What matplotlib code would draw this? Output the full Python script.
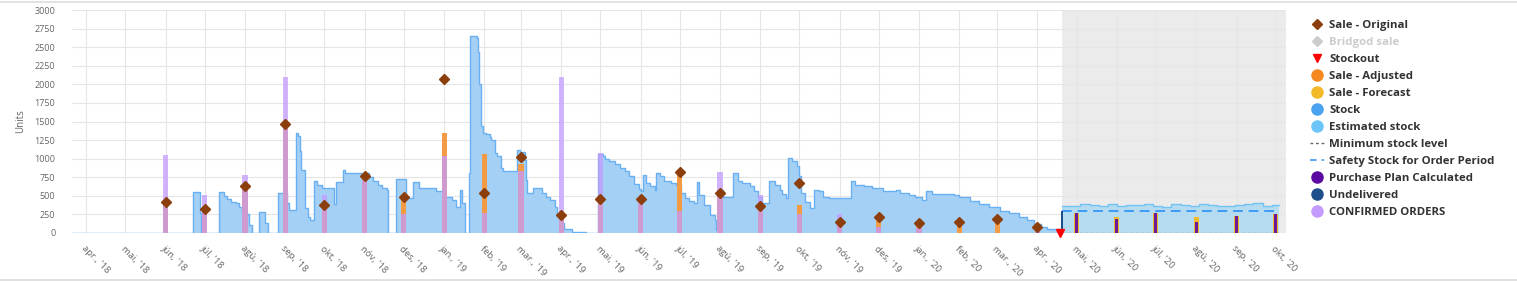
import matplotlib
matplotlib.use('Agg')
import matplotlib.pyplot as plt
import matplotlib.dates as mdates
import pandas as pd
from matplotlib.lines import Line2D

plt.rcParams['font.family'] = ['Open Sans', 'DejaVu Sans']

# ---------------- data ----------------
month_ticks = pd.date_range('2018-04-01', '2020-10-01', freq='MS')
tick_labels = ["apr., '18", "mai, '18", "jún, '18", "júl, '18", "agú, '18", "sep, '18",
               "okt, '18", "nóv, '18", "des, '18", "jan., '19", "feb, '19", "mar., '19",
               "apr., '19", "mai, '19", "jún, '19", "júl, '19", "agú, '19", "sep, '19",
               "okt, '19", "nóv, '19", "des, '19", "jan., '20", "feb, '20", "mar., '20",
               "apr., '20", "mai, '20", "jún, '20", "júl, '20", "agú, '20", "sep, '20",
               "okt, '20"]

sale_months = pd.date_range('2018-06-01', '2020-04-01', freq='MS')
sale_original = [419, 320, 626, 1470, 379, 771, 485, 2072, 532, 1019, 244, 456,
                 460, 825, 532, 363, 672, 149, 221, 128, 145, 185, 77]
sale_adjusted = [419, 320, 626, 1470, 379, 771, 485, 1350, 1065, 930, 244, 456,
                 460, 825, 532, 363, 379, 149, 221, 128, 145, 185, 77]
confirmed_orders = [1046, 514, 785, 2100, 514, 771, 257, 1042, 266, 830, 2100, 1073,
                    460, 298, 825, 514, 257, 257, 77, 64, 0, 0, 65]

forecast_months = pd.date_range('2020-05-01', '2020-10-01', freq='MS')
sale_forecast = [266, 221, 275, 212, 234, 257]
purchase_plan = [266, 185, 275, 153, 234, 257]

undelivered_dates = ['2020-04-20']
undelivered = [300]

stock_dates = ['2018-03-21', '2018-06-22', '2018-06-27', '2018-06-28', '2018-07-12', '2018-07-16',
               '2018-07-18', '2018-07-21', '2018-07-25', '2018-07-27', '2018-07-30', '2018-08-04',
               '2018-08-06', '2018-08-12', '2018-08-16', '2018-08-19', '2018-08-26', '2018-09-02',
               '2018-09-04', '2018-09-09', '2018-09-11', '2018-09-12', '2018-09-13', '2018-09-16',
               '2018-09-18', '2018-09-20', '2018-09-23', '2018-09-25', '2018-09-29', '2018-10-08',
               '2018-10-10', '2018-10-15', '2018-10-17', '2018-11-04', '2018-11-07', '2018-11-11',
               '2018-11-14', '2018-11-18', '2018-11-19', '2018-11-25', '2018-12-03', '2018-12-08',
               '2018-12-13', '2018-12-26', '2019-01-01', '2019-01-07', '2019-01-10', '2019-01-13',
               '2019-01-15', '2019-01-17', '2019-01-20', '2019-01-21', '2019-01-26', '2019-01-27',
               '2019-01-28', '2019-01-29', '2019-01-31', '2019-02-02', '2019-02-05', '2019-02-06',
               '2019-02-09', '2019-02-11', '2019-02-14', '2019-02-15', '2019-02-26', '2019-02-28',
               '2019-03-04', '2019-03-05', '2019-03-06', '2019-03-10', '2019-03-17', '2019-03-20',
               '2019-03-23', '2019-03-27', '2019-03-29', '2019-04-01', '2019-04-03', '2019-04-09',
               '2019-04-20', '2019-04-29', '2019-05-03', '2019-05-05', '2019-05-08', '2019-05-12',
               '2019-05-16', '2019-05-20', '2019-05-23', '2019-05-27', '2019-05-31', '2019-06-01',
               '2019-06-03', '2019-06-05', '2019-06-08', '2019-06-12', '2019-06-13', '2019-06-16',
               '2019-06-19', '2019-06-24', '2019-06-28', '2019-07-02', '2019-07-05', '2019-07-08',
               '2019-07-12', '2019-07-14', '2019-07-16', '2019-07-20', '2019-07-24', '2019-07-28',
               '2019-07-29', '2019-08-01', '2019-08-03', '2019-08-11', '2019-08-15', '2019-08-18',
               '2019-08-24', '2019-08-27', '2019-08-30', '2019-09-02', '2019-09-08', '2019-09-12',
               '2019-09-16', '2019-09-18', '2019-09-21', '2019-09-22', '2019-09-25', '2019-09-29',
               '2019-10-01', '2019-10-02', '2019-10-05', '2019-10-09', '2019-10-12', '2019-10-16',
               '2019-10-19', '2019-10-24', '2019-11-10', '2019-11-13', '2019-11-20', '2019-11-26',
               '2019-12-04', '2019-12-14', '2019-12-17', '2019-12-24', '2019-12-29', '2020-01-03',
               '2020-01-06', '2020-01-11', '2020-01-28', '2020-02-01', '2020-02-09', '2020-02-16',
               '2020-02-24', '2020-03-03', '2020-03-10', '2020-03-18', '2020-03-24', '2020-03-29',
               '2020-04-04', '2020-04-08', '2020-04-18', '2020-04-20']
stock_values = [0, 545, 266, 0, 545, 500,
                460, 420, 400, 345, 257, 110,
                0, 280, 140, 0, 540, 400,
                305, 1350, 1300, 1100, 850, 340,
                220, 180, 700, 640, 610, 390,
                680, 843, 807, 753, 694, 649,
                605, 582, 0, 726, 470, 680,
                605, 560, 491, 446, 356, 582,
                401, 0, 807, 2656, 2620, 2430,
                2000, 1440, 1349, 1326, 1295, 1249,
                1078, 1033, 875, 839, 1123, 1087,
                988, 717, 537, 605, 537, 491,
                446, 356, 244, 131, 50, 18,
                0, 1069, 1042, 997, 965, 934,
                875, 830, 762, 663, 591, 559,
                785, 672, 627, 582, 807, 762,
                694, 672, 649, 537, 469, 437,
                410, 680, 514, 379, 244, 176,
                41, 582, 491, 807, 694, 672,
                627, 559, 491, 401, 694, 649,
                582, 528, 469, 1010, 965, 897,
                762, 537, 423, 334, 582, 559,
                491, 469, 694, 649, 627, 605,
                559, 582, 537, 514, 491, 446,
                559, 528, 510, 483, 437, 392,
                347, 302, 266, 212, 176, 122,
                77, 50, 0, 0]

est_dates = ['2020-04-20', '2020-04-27', '2020-05-04', '2020-05-11', '2020-05-18', '2020-05-25',
             '2020-06-01', '2020-06-08', '2020-06-15', '2020-06-22', '2020-06-29', '2020-07-06',
             '2020-07-13', '2020-07-20', '2020-07-27', '2020-08-03', '2020-08-10', '2020-08-17',
             '2020-08-24', '2020-08-31', '2020-09-07', '2020-09-14', '2020-09-21', '2020-09-28',
             '2020-10-04']
est_values = [365, 365, 385, 372, 368, 390, 360, 372, 380, 390, 362, 356,
              390, 372, 358, 392, 372, 358, 365, 375, 392, 405, 368, 375, 375]

safety_stock = 302
min_stock = 0
stockout_date = '2020-04-18'
forecast_start = '2020-04-20'
forecast_end = '2020-10-04'

# ---------------- figure ----------------
W, H = 1517, 283
fig = plt.figure(figsize=(W / 100, H / 100), dpi=100)
fig.patch.set_facecolor('white')
ax = fig.add_axes([72 / W, 1 - 233 / H, (1286 - 72) / W, (233 - 10) / H])

xmin = pd.Timestamp('2018-03-21')
xmax = pd.Timestamp('2020-10-09')

ax.axvspan(pd.Timestamp(forecast_start), xmax, color='#ebebeb', zorder=0.2, lw=0)

sd = pd.to_datetime(stock_dates)
ax.fill_between(sd, stock_values, step='post', color='#a5d0f6', lw=0, zorder=1)
ax.step(sd, stock_values, where='post', color='#68b0f2', lw=1.0, zorder=1.5)

ed = pd.to_datetime(est_dates)
ax.fill_between(ed, est_values, step='post', color='#b5dbf1', lw=0, zorder=1)
ax.step(ed, est_values, where='post', color='#72c2f4', lw=1.0, zorder=1.5)

ax.plot([pd.Timestamp(forecast_start), pd.Timestamp(forecast_end)], [safety_stock] * 2,
        color='#3d9bf5', lw=1.4, ls=(0, (5, 3)), zorder=2)
ax.plot([pd.Timestamp(forecast_start), pd.Timestamp(forecast_end)], [min_stock] * 2,
        color='#777777', lw=0.9, ls=(0, (2.5, 2)), zorder=2)

bw = 4.0
ax.bar(sale_months, sale_adjusted, width=bw, color='#f39a45', zorder=3, lw=0)
ax.bar(sale_months, confirmed_orders, width=bw, color='#c39bff', alpha=0.75, zorder=3.2, lw=0)

ax.bar(forecast_months, sale_forecast, width=bw, color='#f4b928', zorder=3, lw=0)
ax.bar(forecast_months, purchase_plan, width=bw * 0.6, color='#6a1b9a', zorder=3.2, lw=0)
ax.bar(pd.to_datetime(undelivered_dates), undelivered, width=2.0, color='#1f4e8c', zorder=3.2, lw=0)

ax.plot(sale_months, sale_original, ls='none', marker='D', ms=5.4, color='#8c3f0c', zorder=5)
ax.plot([pd.Timestamp(stockout_date)], [0], ls='none', marker='v', ms=6, color='#ff0000',
        zorder=6, clip_on=False)

ax.set_xlim(xmin, xmax)
ax.set_ylim(0, 3000)
ax.set_yticks(range(0, 3001, 250))
ax.tick_params(axis='y', labelsize=6.5, labelcolor='#666666', length=0, pad=12)
ax.set_xticks(month_ticks)
ax.set_xticklabels(tick_labels, rotation=-45, ha='left', va='top', rotation_mode='anchor')
ax.tick_params(axis='x', labelsize=6.8, labelcolor='#666666', length=0, pad=8)
ax.grid(True, color='#e6e6e6', lw=0.8)
ax.set_axisbelow(True)
for s in ax.spines.values():
    s.set_visible(False)
ax.set_ylabel('Units', fontsize=7, color='#666666', labelpad=6)

# frame lines top/bottom
fig.add_artist(Line2D([0, 1], [1 - 1.5 / H, 1 - 1.5 / H], color='#dddddd', lw=1.2))
fig.add_artist(Line2D([0, 1], [1 - 280 / H, 1 - 280 / H], color='#dddddd', lw=1.2))

# legend
handles = [
    Line2D([], [], ls='none', marker='D', ms=5, color='#8c3f0c'),
    Line2D([], [], ls='none', marker='D', ms=5, color='#cccccc'),
    Line2D([], [], ls='none', marker='v', ms=6, color='#ff0000'),
    Line2D([], [], ls='none', marker='o', ms=8, color='#f5891f'),
    Line2D([], [], ls='none', marker='o', ms=8, color='#f4b928'),
    Line2D([], [], ls='none', marker='o', ms=8, color='#4aa3f0'),
    Line2D([], [], ls='none', marker='o', ms=8, color='#6cc5f8'),
    Line2D([], [], color='#666666', lw=1.0, ls=(0, (2, 2))),
    Line2D([], [], color='#3d9bf5', lw=1.2, ls=(0, (4, 3))),
    Line2D([], [], ls='none', marker='o', ms=8, color='#5a0aa0'),
    Line2D([], [], ls='none', marker='o', ms=8, color='#1f4e8c'),
    Line2D([], [], ls='none', marker='o', ms=8, color='#c39bff'),
]
labels = ['Sale - Original', 'Bridgod sale', 'Stockout', 'Sale - Adjusted', 'Sale - Forecast',
          'Stock', 'Estimated stock', 'Minimum stock level', 'Safety Stock for Order Period',
          'Purchase Plan Calculated', 'Undelivered', 'CONFIRMED ORDERS']
leg = fig.legend(handles, labels, loc='upper left', bbox_to_anchor=(1310 / W, 1 - 20 / H),
                 frameon=False, prop={'size': 8.2, 'weight': 'bold'}, labelspacing=0.53,
                 handlelength=1.2, handletextpad=0.5, borderpad=0, borderaxespad=0)
for t, l in zip(leg.get_texts(), labels):
    t.set_color('#cccccc' if l == 'Bridgod sale' else '#333333')

fig.savefig('out.png', dpi=100, facecolor='white')
